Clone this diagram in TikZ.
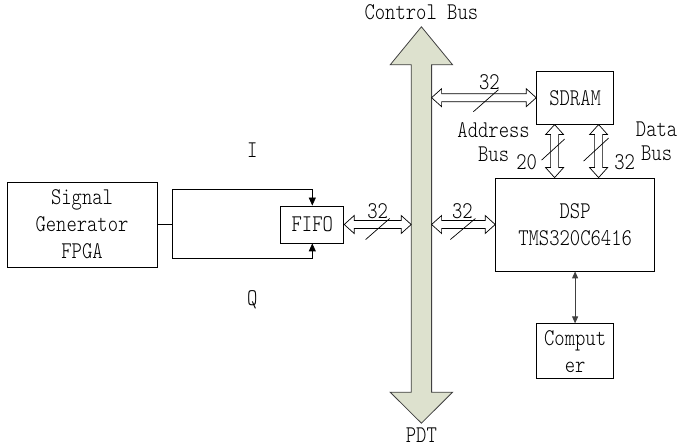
\documentclass[tikz,border=0pt]{standalone}
\usepackage{fontspec}
\newfontfamily\lblfont{lmmonolt10-regular.otf}[FakeStretch=0.82]
\usetikzlibrary{positioning, arrows.meta, calc}
\definecolor{busgreen}{RGB}{221,225,206}
\tikzset{
  block/.style={draw, line width=0.8pt, align=center, inner sep=0pt, font=\lblfont\fontsize{24}{27}\selectfont},
  lbl/.style={inner sep=1pt, align=center, font=\lblfont\fontsize{24}{24}\selectfont},
  wide/.style={draw, fill=white, line width=0.7pt, line join=miter},
  slash/.style={line width=0.7pt},
  sig/.style={line width=0.8pt, -{Triangle[length=8pt,width=7pt]}},
  link/.style={line width=0.8pt, black!75, {Triangle[length=7pt,width=6pt]}-{Triangle[length=7pt,width=6pt]}},
  busbody/.style={draw=black!75, fill=busgreen, line width=0.8pt, line join=miter},
}
% hollow two-headed bus arrow, #3 names its middle
\newcommand{\widearrow}[3]{%
  \path (#1) coordinate (wa) (#2) coordinate (wb) ($(wa)!.5!(wb)$) coordinate (#3)
    ($(wa)!10pt!(wb)$) coordinate (wa1) ($(wb)!10pt!(wa)$) coordinate (wb1);
  \draw[wide] (wa) -- ($(wa1)!9pt!90:(wb)$) -- ($(wa1)!4pt!90:(wb)$) -- ($(wb1)!4pt!-90:(wa)$)
    -- ($(wb1)!9pt!-90:(wa)$) -- (wb) -- ($(wb1)!9pt!90:(wa)$) -- ($(wb1)!4pt!90:(wa)$)
    -- ($(wa1)!4pt!-90:(wb)$) -- ($(wa1)!9pt!-90:(wb)$) -- cycle;
}
\begin{document}
\begin{tikzpicture}[x=1pt, y=1pt]
  \useasboundingbox (0,0) rectangle (680,447);
  \node[block, minimum width=150pt, minimum height=85pt] (gen) at (82,222.5) {Signal\\Generator\\FPGA};
  \node[block, minimum width=63pt, minimum height=37pt, right=123pt of gen] (fifo) {FIFO};
  \node[inner sep=0pt, minimum width=20pt, minimum height=327pt, right=67pt of fifo, yshift=-4pt] (bus) {};
  \node[block, minimum width=159pt, minimum height=93pt, right=151pt of fifo] (dsp) {DSP\\TMS320C6416};
  \node[block, minimum width=77pt, minimum height=53pt, above=53pt of dsp] (sdram) {SDRAM};
  \node[block, minimum width=77pt, minimum height=55pt, below=52pt of dsp] (comp) {Comput\\er};

  % bus
  \coordinate (bustop) at ([yshift=38pt]bus.north);
  \coordinate (busbot) at ([yshift=-31pt]bus.south);
  \draw[busbody] (bus.south west) -- (bus.north west) -- ++(-21,0) -- (bustop) -- ([xshift=21pt]bus.north east)
    -- (bus.north east) -- (bus.south east) -- ([xshift=21pt]bus.south east) -- (busbot)
    -- ([xshift=-21pt]bus.south west) -- cycle;
  \node[lbl, above=6pt of bustop] (ctrl) {Control Bus};
  \node[lbl, below=3pt of busbot] (pdt) {PDT};

  % I / Q into the FIFO
  \coordinate (fork) at ([xshift=15pt]gen.east);
  \draw[line width=0.8pt] (gen.east) -- (fork);
  \draw[sig] (fork) |- ([yshift=16pt]fifo.north) -- (fifo.north);
  \draw[sig] (fork) |- ([yshift=-15pt]fifo.south) -- (fifo.south);
  \node[lbl] (isig) at ([xshift=-60pt, yshift=55pt]fifo.north) {I};
  \node[lbl] (qsig) at ([xshift=-60pt, yshift=-56pt]fifo.south) {Q};

  % buses
  \widearrow{fifo.east}{bus.west |- fifo.east}{m1}
  \widearrow{bus.east |- dsp.west}{dsp.west}{m2}
  \widearrow{bus.east |- sdram.west}{sdram.west}{m3}
  \coordinate (al) at ([xshift=-20.5pt]sdram.south);
  \coordinate (dl) at ([xshift=23.5pt]sdram.south);
  \widearrow{al}{al |- dsp.north}{m4}
  \widearrow{dl}{dl |- dsp.north}{m5}
  \draw[slash] ([shift={(-12pt,-15pt)}]m1) -- ([shift={(12pt,6pt)}]m1);
  \draw[slash] ([shift={(-13pt,-15pt)}]m2) -- ([shift={(12pt,6pt)}]m2);
  \draw[slash] ([shift={(-10.5pt,-14pt)}]m3) -- ([shift={(14.5pt,8pt)}]m3);
  \draw[slash] ([shift={(-13pt,-9pt)}]m4) -- ([shift={(10pt,12pt)}]m4);
  \draw[slash] ([shift={(-15pt,-10pt)}]m5) -- ([shift={(10pt,13pt)}]m5);
  \node[lbl] (w1) at ([yshift=13pt]m1) {32};
  \node[lbl] (w2) at ([xshift=-1pt, yshift=13pt]m2) {32};
  \node[lbl] (w3) at ([xshift=5.5pt, yshift=16pt]m3) {32};
  \node[lbl] (w4) at ([xshift=-28pt, yshift=-11.5pt]m4) {20};
  \node[lbl] (w5) at ([xshift=26pt, yshift=-11.5pt]m5) {32};
  \node[lbl] (abus) at ([xshift=-61pt, yshift=9.5pt]m4) {Address\\Bus};
  \node[lbl] (dbus) at ([xshift=58pt, yshift=9.5pt]m5) {Data\\Bus};

  \draw[link] (dsp.south) -- (comp.north);
\end{tikzpicture}
\end{document}
